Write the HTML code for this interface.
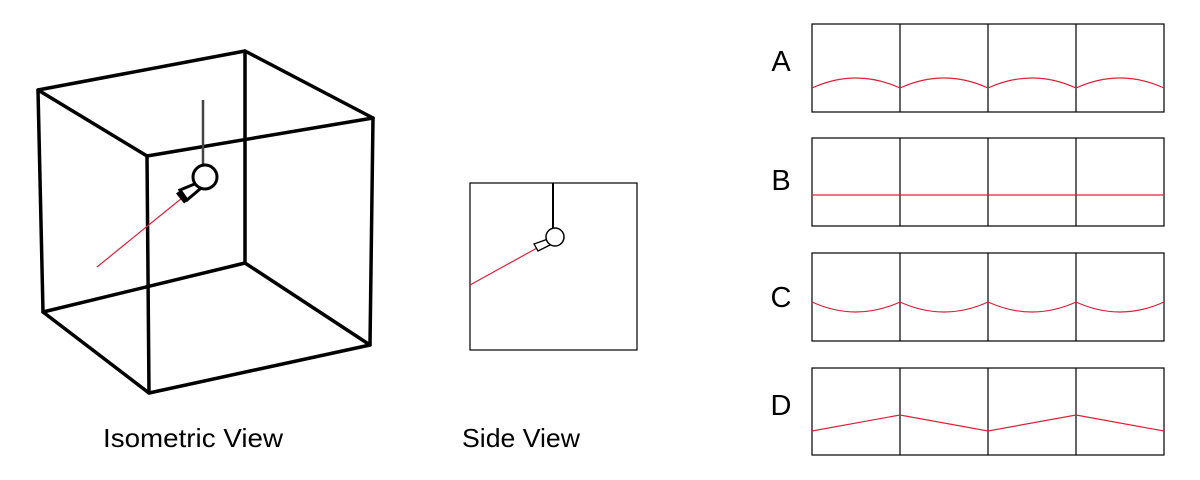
<!DOCTYPE html>
<html><head><style>body{margin:0;background:#fff}svg{display:block}</style></head><body>
<svg width="1200" height="480" viewBox="0 0 1200 480" xmlns="http://www.w3.org/2000/svg" font-family="Liberation Sans, sans-serif">
<g stroke="#000" stroke-width="3.5" fill="none" stroke-linejoin="round" stroke-linecap="round">
<polygon points="38,90 245,51 373,118 147,156"/>
<polygon points="43,312 245,263 370,345 149,393"/>
<line x1="38" y1="90" x2="43" y2="312"/>
<line x1="245" y1="51" x2="245" y2="263"/>
<line x1="373" y1="118" x2="370" y2="345"/>
<line x1="147" y1="156" x2="149" y2="393"/>
</g>
<line x1="203" y1="100" x2="203" y2="166" stroke="#444" stroke-width="2.5"/>
<line x1="182" y1="198" x2="97" y2="267" stroke="#e0203a" stroke-width="1.2"/>
<g stroke="#000" stroke-width="3" fill="#fff">
<path d="M197,183 L180,190 L187,200 L200,189 Z"/>
<circle cx="205" cy="177" r="12"/>
</g>
<line x1="178" y1="192" x2="186" y2="202" stroke="#000" stroke-width="5"/>
<rect x="470" y="183" width="167" height="167" fill="none" stroke="#000" stroke-width="1.2"/>
<line x1="553" y1="183" x2="553" y2="229" stroke="#000" stroke-width="2"/>
<line x1="537" y1="248" x2="470" y2="285" stroke="#e0203a" stroke-width="1.2"/>
<path d="M548,239 L534,244 L538,251 L550,245 Z" fill="#fff" stroke="#000" stroke-width="1.3"/>
<circle cx="555" cy="237" r="9" fill="#fff" stroke="#000" stroke-width="1.5"/>
<g fill="none" stroke="#000" stroke-width="1.2">
<rect x="812" y="24" width="352" height="88"/><line x1="900" y1="24" x2="900" y2="112"/><line x1="988" y1="24" x2="988" y2="112"/><line x1="1076" y1="24" x2="1076" y2="112"/>
<rect x="812" y="138" width="352" height="88"/><line x1="900" y1="138" x2="900" y2="226"/><line x1="988" y1="138" x2="988" y2="226"/><line x1="1076" y1="138" x2="1076" y2="226"/>
<rect x="812" y="253" width="352" height="88"/><line x1="900" y1="253" x2="900" y2="341"/><line x1="988" y1="253" x2="988" y2="341"/><line x1="1076" y1="253" x2="1076" y2="341"/>
<rect x="812" y="368" width="352" height="87"/><line x1="900" y1="368" x2="900" y2="455"/><line x1="988" y1="368" x2="988" y2="455"/><line x1="1076" y1="368" x2="1076" y2="455"/>
</g>
<g fill="none" stroke="#e0203a" stroke-width="1.2">
<path d="M812,88 Q856,68 900,88 Q944,68 988,88 Q1032,68 1076,88 Q1120,68 1164,88"/>
<line x1="812" y1="195" x2="1164" y2="195"/>
<path d="M812,302 Q856,322 900,302 Q944,322 988,302 Q1032,322 1076,302 Q1120,322 1164,302"/>
<polyline points="812,431 900,415 988,431 1076,415 1164,431"/>
</g>
<g font-size="29" fill="#000" text-anchor="middle">
<text x="781" y="71">A</text><text x="781" y="190">B</text><text x="781" y="307">C</text><text x="781" y="415">D</text>
</g>
<g font-size="26" fill="#000">
<text x="103" y="447" textLength="180" lengthAdjust="spacingAndGlyphs">Isometric View</text>
<text x="462" y="447" textLength="118" lengthAdjust="spacingAndGlyphs">Side View</text>
</g>
</svg>
</body></html>
